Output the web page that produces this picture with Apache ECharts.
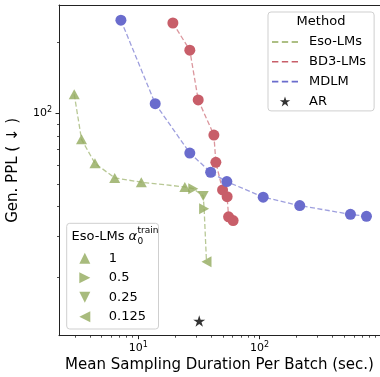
<!DOCTYPE html>
<html>
<head>
<meta charset="utf-8">
<script src="https://cdn.jsdelivr.net/npm/echarts@6/dist/echarts.min.js"></script>
<style>
  html, body { margin: 0; padding: 0; background: #fff; }
  #chart { width: 380px; height: 377px; }
</style>
</head>
<body>
<div id="chart"></div>
<script>
// values: mean sampling duration per batch (sec.) vs gen. PPL
const mdlmTime = [7.2, 13.8, 26.6, 39.5, 53.7, 107, 214, 560, 759]
const mdlmPpl = [248, 109.6, 67.6, 56.0, 51.1, 43.9, 40.4, 37.1, 36.4]

const bd3Time = [19.3, 26.6, 31.2, 42.0, 43.6, 49.5, 54.0, 55.5, 60.5]
const bd3Ppl = [241.3, 185, 113.6, 80.6, 61.7, 47.1, 44.1, 36.2, 34.9]

const esoTime = [2.97, 3.41, 4.40, 6.40, 10.6, 24.2, 28.4, 34.3, 34.9, 36.5]
const esoPpl = [120.1, 77.3, 61.1, 53.0, 50.8, 48.5, 47.7, 44.4, 39.2, 23.3]
const esoAlpha = ['1', '1', '1', '1', '1', '1', '0.5', '0.25', '0.5', '0.125']

const arTime = [31.8]
const arPpl = [13.06]

const methods = ['Eso-LMs', 'BD3-LMs', 'MDLM', 'AR']
const alphaLevels = ['1', '0.5', '0.25', '0.125']

// axis extents and ticks, in raw units
const xRange = [2.225, 981]
const yRange = [11.31, 287.8]
const xMajor = [10, 100]
const xMinor = [3, 4, 5, 6, 7, 8, 9, 20, 30, 40, 50, 60, 70, 80, 90, 200, 300, 400, 500, 600, 700, 800, 900]
const yMajor = [100]
const yMinor = [20, 30, 40, 50, 60, 70, 80, 90, 200]

const FONT = 'DejaVu Sans'
const GREEN = '#92AA5C'
const RED = '#C85E69'
const BLUE = '#6A6CCD'
const AXIS = '#222'

const lg = Math.log10
const toPoints = (xs, ys) => xs.map((x, i) => [lg(x), lg(ys[i])])

const dashIcon = 'path://M0,0h6v1.5h-6z M9.3,0h6v1.5h-6z M18.6,0h6v1.5h-6z'
const starIcon = 'path://M10,0L12.245,6.91L19.511,6.91L13.633,11.18L15.878,18.09L10,13.82L4.122,18.09L6.367,11.18L0.489,6.91L7.755,6.91Z'
const triangles = {
  '1': 'path://M5,0L10,10L0,10Z',
  '0.5': 'path://M10,5L0,10L0,0Z',
  '0.25': 'path://M0,0L10,0L5,10Z',
  '0.125': 'path://M0,5L10,0L10,10Z'
}
const triSize = { '1': [11, 10], '0.5': [10, 11], '0.25': [11, 10], '0.125': [10, 11] }

const chart = echarts.init(document.getElementById('chart'))

const powLabel = v => '{b|10}{s|' + Math.round(v) + '}'
const labelRich = {
  b: { fontSize: 11, fontFamily: FONT, color: '#000' },
  s: { fontSize: 8, fontFamily: FONT, color: '#000', padding: [0, 0, 6, 0] }
}
const dashed = (color) => ({ color: color, width: 1.3, type: [5, 2.5], opacity: 0.65 })

const alphaSeries = alphaLevels.map(a => ({
  name: a,
  type: 'scatter',
  symbol: triangles[a],
  symbolSize: triSize[a],
  itemStyle: { color: GREEN },
  data: toPoints(esoTime, esoPpl).filter((p, i) => esoAlpha[i] === a),
  z: 4
}))

const legendBox = {
  orient: 'vertical',
  selectedMode: false,
  itemWidth: 26,
  borderColor: '#cfcfcf',
  borderWidth: 1,
  borderRadius: 3,
  backgroundColor: 'rgba(255,255,255,0.8)',
  textStyle: { fontSize: 13, fontFamily: FONT, color: '#000', padding: [0, 0, 0, 6] }
}

const option = {
  animation: false,
  grid: { left: 59, right: 0, top: 5, bottom: 41.3, containLabel: false, outerBoundsMode: 'none' },
  xAxis: [
    {
      type: 'value', min: lg(xRange[0]), max: lg(xRange[1]),
      name: 'Mean Sampling Duration Per Batch (sec.)',
      nameLocation: 'middle', nameGap: 22,
      nameTextStyle: { fontSize: 15, fontFamily: FONT, color: '#000' },
      axisLine: { show: true, onZero: false, lineStyle: { color: AXIS, width: 1 } },
      axisTick: { show: true, customValues: xMajor.map(lg), length: 3.5, lineStyle: { color: AXIS, width: 1 } },
      axisLabel: { customValues: xMajor.map(lg), formatter: powLabel, margin: 5, rich: labelRich },
      splitLine: { show: false }
    },
    {
      type: 'value', min: lg(xRange[0]), max: lg(xRange[1]), position: 'bottom',
      axisLine: { show: false, onZero: false },
      axisTick: { show: true, customValues: xMinor.map(lg), length: 2, lineStyle: { color: AXIS, width: 0.8 } },
      axisLabel: { show: false },
      splitLine: { show: false }
    },
    {
      type: 'value', min: lg(xRange[0]), max: lg(xRange[1]), position: 'top',
      axisLine: { show: true, onZero: false, lineStyle: { color: AXIS, width: 1 } },
      axisTick: { show: false },
      axisLabel: { show: false },
      splitLine: { show: false }
    }
  ],
  yAxis: [
    {
      type: 'value', min: lg(yRange[0]), max: lg(yRange[1]),
      name: 'Gen. PPL ( ↓ )',
      nameLocation: 'middle', nameGap: 38,
      nameTextStyle: { fontSize: 15, fontFamily: FONT, color: '#000' },
      axisLine: { show: true, onZero: false, lineStyle: { color: AXIS, width: 1 } },
      axisTick: { show: true, customValues: yMajor.map(lg), length: 3.5, lineStyle: { color: AXIS, width: 1 } },
      axisLabel: { customValues: yMajor.map(lg), formatter: powLabel, margin: 7, rich: labelRich },
      splitLine: { show: false }
    },
    {
      type: 'value', min: lg(yRange[0]), max: lg(yRange[1]), position: 'left',
      axisLine: { show: false, onZero: false },
      axisTick: { show: true, customValues: yMinor.map(lg), length: 2, lineStyle: { color: AXIS, width: 0.8 } },
      axisLabel: { show: false },
      splitLine: { show: false }
    }
  ],
  legend: [
    Object.assign({}, legendBox, {
      left: 268, top: 12,
      padding: [23.5, 8, 3, 4],
      itemHeight: 10,
      itemGap: 6.8,
      data: [
        { name: 'Eso-LMs', icon: dashIcon },
        { name: 'BD3-LMs', icon: dashIcon },
        { name: 'MDLM', icon: dashIcon },
        { name: 'AR', icon: starIcon }
      ]
    }),
    Object.assign({}, legendBox, {
      left: 66.7, top: 223.3,
      padding: [28.5, 12.5, 5.7, 12.6],
      itemHeight: 11,
      itemGap: 6.5,
      data: alphaLevels.map(a => ({ name: a, icon: triangles[a] }))
    })
  ],
  graphic: [
    { type: 'text', z: 100, x: 321, y: 22, style: { text: 'Method', fontSize: 13, fontFamily: FONT, fill: '#000', align: 'center', verticalAlign: 'middle' } },
    { type: 'text', z: 100, x: 71.5, y: 236.7, style: { text: 'Eso-LMs', fontSize: 13, fontFamily: FONT, fill: '#000', verticalAlign: 'middle' } },
    { type: 'text', z: 100, x: 128.5, y: 236.7, style: { text: 'α', fontSize: 13, fontStyle: 'italic', fontFamily: FONT, fill: '#000', verticalAlign: 'middle' } },
    { type: 'text', z: 100, x: 137.5, y: 231, style: { text: 'train', fontSize: 9, fontFamily: FONT, fill: '#000', verticalAlign: 'middle' } },
    { type: 'text', z: 100, x: 137.5, y: 241.5, style: { text: '0', fontSize: 9, fontFamily: FONT, fill: '#000', verticalAlign: 'middle' } }
  ],
  series: [
    {
      name: 'Eso-LMs', type: 'line', symbol: 'none',
      itemStyle: { color: GREEN }, lineStyle: dashed(GREEN),
      data: toPoints(esoTime, esoPpl), z: 2
    },
    {
      name: 'BD3-LMs', type: 'line', symbol: 'circle', symbolSize: 11,
      itemStyle: { color: RED }, lineStyle: dashed(RED),
      data: toPoints(bd3Time, bd3Ppl), z: 2
    },
    {
      name: 'MDLM', type: 'line', symbol: 'circle', symbolSize: 11,
      itemStyle: { color: BLUE }, lineStyle: dashed(BLUE),
      data: toPoints(mdlmTime, mdlmPpl), z: 3
    },
    ...alphaSeries,
    {
      name: 'AR', type: 'scatter', symbol: starIcon, symbolSize: [12, 11.5],
      itemStyle: { color: '#000' },
      data: toPoints(arTime, arPpl), z: 5
    }
  ]
}

chart.setOption(option)
window.addEventListener('resize', () => chart.resize())
</script>
</body>
</html>
